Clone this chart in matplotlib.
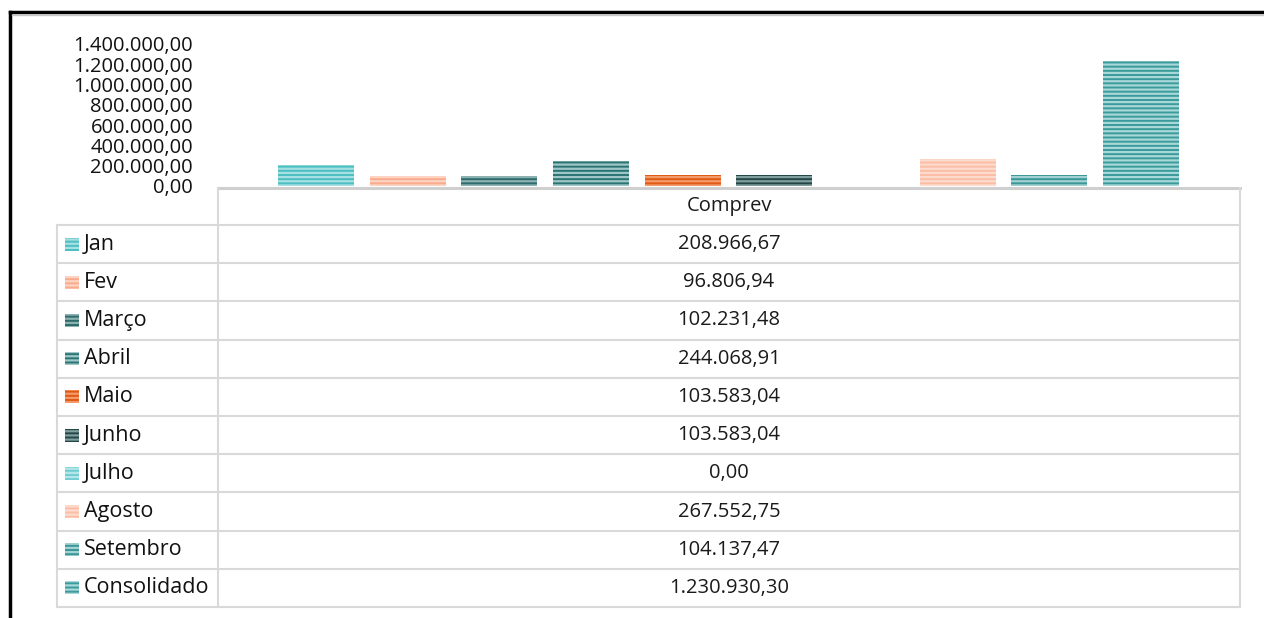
import matplotlib.pyplot as plt
from matplotlib.patches import Rectangle
from matplotlib.lines import Line2D

plt.rcParams['font.family'] = ['Open Sans', 'DejaVu Sans']
plt.rcParams['hatch.linewidth'] = 1.6

# data
categoria = 'Comprev'
meses = ['Jan', 'Fev', 'Março', 'Abril', 'Maio', 'Junho', 'Julho',
         'Agosto', 'Setembro', 'Consolidado']
valores = [208966.67, 96806.94, 102231.48, 244068.91, 103583.04,
           103583.04, 0.00, 267552.75, 104137.47, 1230930.30]
cores = ['#4bbec2', '#f9aa8b', '#2f6b6b', '#2b7474', '#e05a14',
         '#234646', '#6fcdd2', '#fbbea4', '#3a9798', '#3a9a9c']
listras = ['#a6e0e2', '#fcd3c3', '#8cb2b2', '#9fc7c7', '#f29a6a',
           '#7f9e9e', '#b4e6e8', '#fddccf', '#a3d1d1', '#a9d8d8']


def fmt(v):
    s = f'{v:,.2f}'
    return s.replace(',', 'X').replace('.', ',').replace('X', '.')


W, H = 1264, 618
fig = plt.figure(figsize=(W / 100, H / 100), dpi=100)

# overlay in pixel coordinates for frame and data table
bg = fig.add_axes([0, 0, 1, 1])
bg.set_xlim(0, W)
bg.set_ylim(H, 0)
bg.axis('off')

# outer frame (top and left)
bg.add_line(Line2D([10, W], [12, 12], color='black', lw=2.5))
bg.add_line(Line2D([10, 10], [12, H], color='black', lw=2.5))
bg.add_line(Line2D([12, W], [14.5, 14.5], color='#c8c8c8', lw=1))

# bar chart
left, right, top, bottom = 218, 1240, 44, 186
ax = fig.add_axes([left / W, 1 - bottom / H, (right - left) / W, (bottom - top) / H])
x = list(range(len(meses)))
for i in x:
    ax.bar(i, valores[i], width=0.83, color=cores[i], edgecolor=listras[i],
           linewidth=0, hatch='----')
ax.set_xlim(-1.07, len(meses) - 1 + 1.08)
ax.set_ylim(0, 1400000)
yt = list(range(0, 1400001, 200000))
ax.set_yticks(yt)
ax.set_yticklabels([fmt(v) for v in yt], fontsize=14.5, color='#111111')
ax.tick_params(axis='y', length=0, pad=18)
ax.set_xticks([])
for s in ax.spines.values():
    s.set_visible(False)
ax.patch.set_alpha(0)

# data table
grid = '#d9d9d9'
rows = [188, 225] + [225 + 38.2 * (k + 1) for k in range(len(meses))]
col0, col1, col2 = 57, 218, 1240
bg.add_line(Line2D([col1, col2], [rows[0] - 0.5, rows[0] - 0.5], color='#cfcfcf', lw=2.2))
for yy in rows[1:]:
    bg.add_line(Line2D([col0, col2], [yy, yy], color=grid, lw=1.5))
bg.add_line(Line2D([col0, col0], [rows[1], rows[-1]], color=grid, lw=1.5))
bg.add_line(Line2D([col1, col1], [rows[0], rows[-1]], color=grid, lw=1.5))
bg.add_line(Line2D([col2, col2], [rows[0], rows[-1]], color=grid, lw=1.5))

cx = (col1 + col2) / 2
bg.text(cx, (rows[0] + rows[1]) / 2, categoria, ha='center', va='center',
        fontsize=14.5, color='#1a1a1a')
for k, m in enumerate(meses):
    yc = (rows[k + 1] + rows[k + 2]) / 2
    bg.add_patch(Rectangle((65, yc - 6.5), 14, 13, facecolor=cores[k],
                           edgecolor=listras[k], linewidth=0, hatch='----'))
    bg.text(84, yc, m, ha='left', va='center', fontsize=15.5, color='#111111')
    bg.text(cx, yc, fmt(valores[k]), ha='center', va='center',
            fontsize=14.5, color='#1a1a1a')

fig.savefig('out.png', dpi=100)
